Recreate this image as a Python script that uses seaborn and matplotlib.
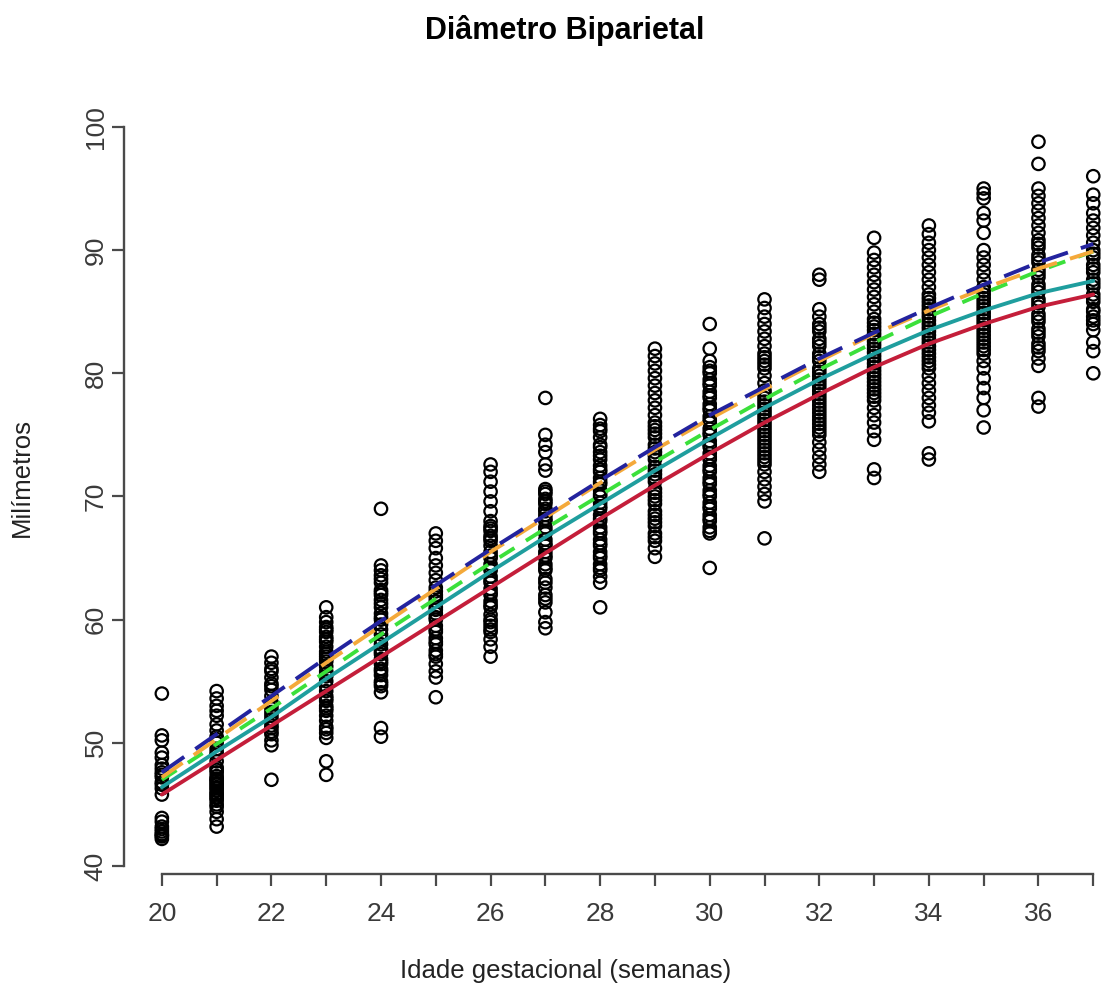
import numpy as np
import pandas as pd
import matplotlib
matplotlib.use("Agg")
import matplotlib.pyplot as plt
import seaborn as sns

# ---------------- data ----------------
weeks = list(range(20, 38))

bpd_20 = [54.0, 50.6, 50.2, 49.2, 48.8, 48.2, 47.9, 47.6, 47.4, 47.2, 46.8, 46.6, 46.3, 45.8,
          43.9, 43.6, 43.2, 43.0, 42.8, 42.6, 42.5, 42.4, 42.2]
bpd_21 = [54.2, 53.6, 53.0, 52.6, 52.2, 51.5, 51.0, 50.5, 50.3, 50.0, 49.5, 49.2, 49.0, 48.5, 48.0,
          47.8, 47.6, 47.3, 47.1, 47.0, 46.9, 46.7, 46.6, 46.4, 46.3, 46.1, 45.9, 45.8, 45.6, 45.5,
          45.3, 45.0, 44.8, 44.4, 43.8, 43.2]
bpd_22 = [57.0, 56.5, 56.0, 55.8, 55.3, 54.8, 54.6, 54.3, 53.8, 53.3, 53.1, 52.8, 52.5, 52.2, 51.9,
          51.7, 51.4, 51.2, 50.9, 50.7, 50.2, 49.8, 47.0]
bpd_23 = [61.0, 60.2, 59.8, 59.4, 59.2, 59.0, 58.6, 58.4, 58.2, 57.8, 57.4, 57.2, 57.0, 56.8, 56.6,
          56.2, 55.8, 55.6, 55.4, 55.0, 54.6, 54.2, 53.8, 53.6, 53.4, 53.0, 52.8, 52.6, 52.2, 51.8,
          51.3, 51.1, 50.8, 50.4, 48.5, 47.4]
bpd_24 = [69.0, 64.4, 64.0, 63.6, 63.3, 63.0, 62.4, 62.2, 62.0, 61.6, 61.3, 61.0, 60.5, 60.2, 60.0,
          59.6, 59.2, 58.8, 58.4, 58.0, 57.6, 57.4, 57.2, 56.8, 56.6, 56.4, 56.0, 55.8, 55.5, 55.0,
          54.8, 54.6, 54.1, 51.2, 50.5]
bpd_25 = [67.0, 66.4, 65.8, 65.0, 64.4, 63.8, 63.2, 62.6, 62.3, 62.0, 61.8, 61.5, 61.0, 60.8, 60.5,
          60.2, 60.0, 59.5, 59.2, 59.0, 58.5, 58.2, 58.0, 57.5, 57.2, 57.0, 56.4, 55.8, 55.3, 53.7]
bpd_26 = [72.6, 72.0, 71.2, 70.4, 69.6, 68.8, 68.0, 67.6, 67.4, 67.2, 66.8, 66.6, 66.4, 66.0, 65.5,
          65.2, 65.0, 64.5, 64.2, 64.0, 63.5, 63.2, 63.0, 62.5, 62.2, 62.0, 61.5, 61.2, 61.0, 60.4,
          60.0, 59.8, 59.5, 59.2, 59.0, 58.4, 57.8, 57.0]
bpd_27 = [78.0, 75.0, 74.2, 73.6, 72.6, 72.1, 70.6, 70.4, 70.2, 69.8, 69.6, 69.4, 69.0, 68.8, 68.5,
          68.2, 68.0, 67.5, 67.2, 67.0, 66.5, 66.2, 66.0, 65.5, 65.2, 65.0, 64.5, 64.2, 64.0, 63.3,
          63.0, 62.6, 62.0, 61.7, 61.4, 60.6, 59.8, 59.3]
bpd_28 = [76.3, 75.8, 75.5, 75.3, 74.8, 74.2, 74.0, 73.6, 73.3, 73.0, 72.5, 72.2, 72.0, 71.5, 71.2,
          71.0, 70.5, 70.2, 70.0, 69.5, 69.2, 69.0, 68.5, 68.2, 68.0, 67.5, 67.2, 67.0, 66.5, 66.2,
          66.0, 65.5, 65.2, 65.0, 64.5, 64.2, 64.0, 63.5, 63.0, 61.0]
bpd_29 = [82.0, 81.4, 80.8, 80.2, 79.6, 79.0, 78.4, 77.8, 77.2, 76.6, 76.0, 75.7, 75.4, 75.1, 74.8,
          74.2, 73.9, 73.6, 73.3, 73.0, 72.4, 72.1, 71.8, 71.5, 71.2, 70.6, 70.3, 70.0, 69.7, 69.4,
          68.8, 68.5, 68.2, 67.9, 67.6, 67.0, 66.7, 66.4, 65.8, 65.1]
bpd_30 = [84.0, 82.0, 81.0, 80.5, 80.2, 80.0, 79.5, 79.2, 79.0, 78.5, 78.2, 78.0, 77.5, 77.2, 77.0,
          76.5, 76.2, 76.0, 75.5, 75.2, 75.0, 74.5, 74.2, 74.0, 73.5, 73.2, 73.0, 72.5, 72.2, 72.0,
          71.5, 71.2, 71.0, 70.5, 70.2, 70.0, 69.5, 69.2, 69.0, 68.5, 68.2, 68.0, 67.5, 67.2, 67.0,
          64.2]
bpd_31 = [86.0, 85.3, 84.6, 84.0, 83.4, 82.8, 82.2, 81.6, 81.3, 81.0, 80.7, 80.4, 79.8, 79.2, 78.6,
          78.3, 78.0, 77.7, 77.4, 77.1, 76.8, 76.5, 76.2, 75.9, 75.6, 75.3, 75.0, 74.7, 74.4, 74.1,
          73.8, 73.5, 73.2, 72.9, 72.6, 72.0, 71.4, 70.8, 70.2, 69.6, 66.6]
bpd_32 = [88.0, 87.6, 85.2, 84.6, 84.0, 83.7, 83.4, 82.8, 82.5, 82.2, 81.6, 81.3, 81.0, 80.4, 80.1,
          79.8, 79.5, 79.2, 78.9, 78.6, 78.3, 78.0, 77.7, 77.4, 77.1, 76.8, 76.5, 76.2, 75.9, 75.6,
          75.3, 75.0, 74.4, 73.8, 73.2, 72.6, 72.0]
bpd_33 = [91.0, 89.8, 89.2, 88.6, 88.0, 87.4, 86.8, 86.2, 85.6, 85.0, 84.4, 84.1, 83.8, 83.5, 83.2,
          82.9, 82.6, 82.3, 82.0, 81.7, 81.4, 81.1, 80.8, 80.5, 80.2, 79.9, 79.6, 79.3, 79.0, 78.7,
          78.4, 78.1, 77.8, 77.2, 76.6, 76.0, 75.3, 74.6, 72.2, 71.5]
bpd_34 = [92.0, 91.3, 90.6, 90.0, 89.4, 88.8, 88.2, 87.6, 87.0, 86.4, 86.1, 85.8, 85.5, 85.2, 84.9,
          84.6, 84.3, 84.0, 83.7, 83.4, 83.1, 82.8, 82.5, 82.2, 81.9, 81.6, 81.3, 81.0, 80.7, 80.4,
          79.8, 79.2, 78.6, 78.0, 77.4, 76.8, 76.1, 73.5, 73.0]
bpd_35 = [95.0, 94.6, 94.2, 93.0, 92.4, 91.4, 90.0, 89.4, 88.8, 88.2, 87.6, 87.0, 86.7, 86.4, 86.1,
          85.8, 85.5, 85.2, 84.9, 84.6, 84.3, 84.0, 83.7, 83.4, 83.1, 82.8, 82.5, 82.2, 81.9, 81.6,
          81.0, 80.4, 79.6, 78.8, 78.0, 77.0, 75.6]
bpd_36 = [98.8, 97.0, 95.0, 94.4, 93.8, 93.2, 92.6, 92.0, 91.4, 90.8, 90.5, 90.2, 89.6, 89.3, 89.0,
          88.4, 88.1, 87.8, 87.2, 86.9, 86.6, 86.0, 85.7, 85.4, 84.8, 84.5, 84.2, 83.6, 83.3, 83.0,
          82.4, 82.1, 81.8, 81.2, 80.6, 78.0, 77.3]
bpd_37 = [96.0, 94.5, 93.8, 93.0, 92.4, 91.8, 91.2, 90.6, 90.0, 89.7, 89.4, 88.8, 88.5, 88.2, 87.6,
          87.3, 87.0, 86.4, 86.1, 85.8, 85.2, 85.0, 84.6, 84.3, 84.0, 83.5, 82.5, 81.8, 80.0]

curve_red = [45.8, 48.6, 51.4, 54.2, 57.0, 59.8, 62.6, 65.4, 68.2, 70.9, 73.5, 76.0, 78.3, 80.5, 82.4, 84.0, 85.4, 86.4]
curve_teal = [46.4, 49.3, 52.1, 55.2, 58.1, 61.0, 63.9, 66.7, 69.4, 72.1, 74.7, 77.2, 79.5, 81.6, 83.5, 85.1, 86.5, 87.5]
curve_green = [47.0, 49.9, 52.8, 55.8, 58.8, 61.7, 64.6, 67.4, 70.1, 72.8, 75.4, 77.9, 80.3, 82.5, 84.6, 86.5, 88.3, 89.9]
curve_orange = [47.2, 50.3, 53.4, 56.5, 59.5, 62.5, 65.5, 68.3, 71.1, 73.8, 76.3, 78.7, 81.0, 83.2, 85.1, 86.9, 88.5, 89.9]
curve_blue = [47.6, 50.7, 53.8, 56.9, 59.9, 62.8, 65.7, 68.5, 71.3, 74.0, 76.6, 78.9, 81.2, 83.3, 85.3, 87.2, 89.0, 90.5]

title = "Diâmetro Biparietal"
xlabel = "Idade gestacional (semanas)"
ylabel = "Milímetros"
xticks = list(range(20, 38))
xticklabels = [str(w) if w % 2 == 0 else "" for w in xticks]
yticks = [40, 50, 60, 70, 80, 90, 100]

# ---------------- build frame ----------------
cols = [bpd_20, bpd_21, bpd_22, bpd_23, bpd_24, bpd_25, bpd_26, bpd_27, bpd_28,
        bpd_29, bpd_30, bpd_31, bpd_32, bpd_33, bpd_34, bpd_35, bpd_36, bpd_37]
df = pd.DataFrame({
    "week": np.concatenate([[w] * len(c) for w, c in zip(weeks, cols)]),
    "bpd": np.concatenate(cols),
})

# ---------------- plot ----------------
sns.set_style("ticks")
plt.rcParams["font.family"] = ["Liberation Sans", "DejaVu Sans"]

W, H = 1103, 997
fig = plt.figure(figsize=(W / 100, H / 100), dpi=100)
left_px, right_px, top_px, bottom_px = 123.5, 1130.5, 113.4, 874.0
ax = fig.add_axes([left_px / W, 1 - bottom_px / H, (right_px - left_px) / W, (bottom_px - top_px) / H])

sns.scatterplot(data=df, x="week", y="bpd", marker="o", s=80, facecolor="none",
                edgecolor="black", linewidth=1.6, ax=ax, legend=False, zorder=2)

line_specs = [
    (curve_red, "#C41E3A", "-"),
    (curve_teal, "#1F9E9E", "-"),
    (curve_green, "#3BE03B", (0, (4.5, 3.5))),
    (curve_orange, "#F4A93A", (0, (6.5, 3.5))),
    (curve_blue, "#23239E", (0, (7, 3.5))),
]
for vals, col, ls in line_specs:
    sns.lineplot(x=weeks, y=vals, color=col, linewidth=2.8, linestyle=ls, ax=ax, zorder=3)

ax.set_xlim(19.30, 37.68)
ax.set_ylim(39.35, 101.1)

for s in ["top", "right"]:
    ax.spines[s].set_visible(False)
for s in ["left", "bottom"]:
    ax.spines[s].set_color("#4a4a4a")
    ax.spines[s].set_linewidth(1.7)
ax.spines["left"].set_bounds(40, 100)
ax.spines["bottom"].set_bounds(20, 37)

ax.set_xticks(xticks)
ax.set_xticklabels(xticklabels)
ax.set_yticks(yticks)
ax.set_yticklabels([str(v) for v in yticks], rotation=90, va="center")
ax.tick_params(axis="both", direction="out", length=8.5, width=1.6, color="#4a4a4a",
               labelcolor="#3a3a3a", labelsize=19, bottom=True, left=True)
ax.tick_params(axis="x", pad=12)
ax.tick_params(axis="y", pad=3)
ax.set_xlabel("")
ax.set_ylabel("")
ax.grid(False)

fig.text(565 / W, 1 - 30 / H, title, ha="center", va="center", fontsize=22, fontweight="bold", color="black")
fig.text(566 / W, 1 - 971 / H, xlabel, ha="center", va="center", fontsize=18.5, color="#222222")
fig.text(22 / W, 1 - 477 / H, ylabel, ha="center", va="center", rotation=90, fontsize=18.5, color="#222222")

fig.savefig("out.png", dpi=100)
